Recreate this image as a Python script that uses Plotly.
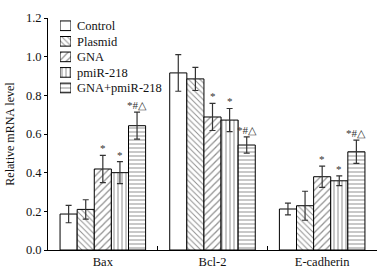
import plotly.graph_objects as go

categories = ["Bax", "Bcl-2", "E-cadherin"]
series_names = ["Control", "Plasmid", "GNA", "pmiR-218", "GNA+pmiR-218"]
values = {
    "Control":      [0.186, 0.916, 0.212],
    "Plasmid":      [0.210, 0.885, 0.229],
    "GNA":          [0.419, 0.688, 0.379],
    "pmiR-218":     [0.400, 0.672, 0.358],
    "GNA+pmiR-218": [0.643, 0.543, 0.508],
}
errors = {
    "Control":      [0.045, 0.095, 0.030],
    "Plasmid":      [0.050, 0.060, 0.075],
    "GNA":          [0.070, 0.070, 0.055],
    "pmiR-218":     [0.057, 0.060, 0.025],
    "GNA+pmiR-218": [0.070, 0.042, 0.060],
}
marks = {
    "Control":      ["", "", ""],
    "Plasmid":      ["", "", ""],
    "GNA":          ["*", "*", "*"],
    "pmiR-218":     ["*", "*", "*"],
    "GNA+pmiR-218": ["*#△", "*#△", "*#△"],
}
patterns = {"Control": "", "Plasmid": "\\", "GNA": "/", "pmiR-218": "|", "GNA+pmiR-218": "-"}
pat_size = {"Control": 8, "Plasmid": 4, "GNA": 5, "pmiR-218": 4, "GNA+pmiR-218": 4}

FONT = "Liberation Serif"
bargap = 0.22

fig = go.Figure()
for s in series_names:
    fig.add_trace(go.Bar(
        name=s, x=categories, y=values[s], showlegend=False,
        error_y=dict(type="data", array=errors[s], color="#333", thickness=1.2, width=3),
        marker=dict(color="white", line=dict(color="black", width=1),
                    pattern=dict(shape=patterns[s], fgcolor="#222", bgcolor="white",
                                 size=pat_size[s], solidity=0.25)),
    ))

# legend key drawn as a small horizontal bar chart on its own axes
fig.add_trace(go.Bar(
    x=[1] * len(series_names), y=series_names, orientation="h", width=0.62,
    xaxis="x2", yaxis="y2", showlegend=False, hoverinfo="skip",
    marker=dict(color="white", line=dict(color="black", width=1),
                pattern=dict(shape=[patterns[s] for s in series_names],
                             size=[pat_size[s] for s in series_names],
                             fgcolor="#222", bgcolor="white", solidity=0.25)),
))

n = len(series_names)
bw = (1 - bargap) / n
annotations = []
for i, s in enumerate(series_names):
    for ci, c in enumerate(categories):
        t = marks[s][ci]
        if not t:
            continue
        xpos = ci - (1 - bargap) / 2 + (i + 0.5) * bw
        annotations.append(dict(x=xpos, y=values[s][ci] + errors[s][ci], text=t,
                                showarrow=False, yanchor="bottom", yshift=-1,
                                font=dict(family=FONT, size=11, color="#333")))

fig.update_layout(
    width=386, height=275,
    margin=dict(l=48, r=9, t=18, b=25),
    paper_bgcolor="white", plot_bgcolor="white",
    barmode="group", bargap=bargap, bargroupgap=0,
    font=dict(family=FONT, size=12, color="#111"),
    showlegend=False,
    annotations=annotations,
    xaxis=dict(showline=True, linecolor="black", linewidth=1, ticks="inside",
               tickson="boundaries", ticklen=4, tickcolor="black", mirror=False,
               automargin=False, tickfont=dict(family=FONT, size=12.5)),
    yaxis=dict(range=[0, 1.2], dtick=0.2, tickformat=".1f", showline=True,
               linecolor="black", linewidth=1, ticks="outside", ticklen=3,
               tickcolor="black", showgrid=False, zeroline=False, automargin=False,
               title=dict(text="Relative mRNA level", font=dict(family=FONT, size=12), standoff=8),
               tickfont=dict(family=FONT, size=12.5)),
    xaxis2=dict(domain=[0.0365, 0.0699], range=[0, 1], anchor="y2", visible=False,
                fixedrange=True),
    yaxis2=dict(domain=[0.665, 1.0], anchor="x2", autorange="reversed", side="right",
                showline=False, showgrid=False, zeroline=False, ticks="",
                ticklabelstandoff=5, automargin=False, fixedrange=True,
                tickfont=dict(family=FONT, size=12.5, color="#111")),
)
fig.write_html("out.html", config={"displayModeBar": False},
               post_script="document.body.style.margin='0';")
